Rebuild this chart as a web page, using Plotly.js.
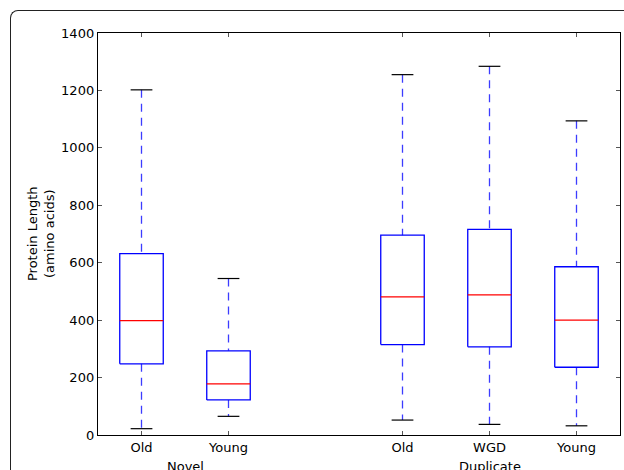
<!DOCTYPE html>
<html>
<head>
<meta charset="utf-8">
<script src="https://cdn.plot.ly/plotly-3.0.1.min.js"></script>
<style>
  html, body { margin: 0; padding: 0; background: #fff; overflow: hidden; }
  #frame { position: absolute; left: 10px; top: 10px; width: 640px; height: 500px;
           border-top: 1.3px solid #222; border-left: 1.3px solid #222;
           border-top-left-radius: 8px; box-sizing: border-box; pointer-events: none; }
  #chart { position: absolute; left: 0; top: 0; width: 624px; height: 470px; }
</style>
</head>
<body>
<div id="chart"></div>
<div id="frame"></div>
<script>
// ---- data ----
const positions    = [1, 2, 4, 5, 6];
const categories   = ['Old', 'Young', 'Old', 'WGD', 'Young'];
const groupOf      = ['Novel', 'Novel', 'Duplicate', 'Duplicate', 'Duplicate'];
const groupLabels  = ['Novel', 'Duplicate'];
const lowerWhisker = [22, 65, 52, 37, 32];
const q1           = [248, 122, 315, 307, 236];
const median       = [398, 178, 481, 488, 400];
const q3           = [632, 293, 696, 716, 586];
const upperWhisker = [1202, 545, 1255, 1284, 1094];
const yTicks       = [0, 200, 400, 600, 800, 1000, 1200, 1400];

// ---- build traces ----
const boxHalf = 0.25, capHalf = 0.125;
const boxX = [], boxY = [], medX = [], medY = [], whX = [], whY = [], capX = [], capY = [];
positions.forEach((p, i) => {
  boxX.push(p - boxHalf, p + boxHalf, p + boxHalf, p - boxHalf, p - boxHalf, null);
  boxY.push(q1[i], q1[i], q3[i], q3[i], q1[i], null);
  medX.push(p - boxHalf, p + boxHalf, null);
  medY.push(median[i], median[i], null);
  whX.push(p, p, null, p, p, null);
  whY.push(upperWhisker[i], q3[i], null, q1[i], lowerWhisker[i], null);
  capX.push(p - capHalf, p + capHalf, null, p - capHalf, p + capHalf, null);
  capY.push(upperWhisker[i], upperWhisker[i], null, lowerWhisker[i], lowerWhisker[i], null);
});

const traces = [
  { x: whX, y: whY, mode: 'lines', line: { color: 'rgb(60,60,255)', width: 1.3, dash: '8px,6px' }, hoverinfo: 'skip' },
  { x: boxX, y: boxY, mode: 'lines', line: { color: 'blue', width: 1.3 }, hoverinfo: 'skip' },
  { x: medX, y: medY, mode: 'lines', line: { color: 'red', width: 1.3 }, hoverinfo: 'skip' },
  { x: capX, y: capY, mode: 'lines', line: { color: 'black', width: 1.2 }, hoverinfo: 'skip' }
];

const groupAnnotations = groupLabels.map(g => {
  const ps = positions.filter((p, i) => groupOf[i] === g);
  const c = ps.reduce((a, b) => a + b, 0) / ps.length;
  return { text: g, x: c, xref: 'x', y: 0, yref: 'paper', yanchor: 'top', yshift: -22,
           showarrow: false, font: { family: 'DejaVu Sans', size: 13, color: 'black' } };
});
const tickFont = { family: 'DejaVu Sans', size: 13, color: 'black' };

const layout = {
  width: 624, height: 470,
  margin: { l: 98, r: 4, t: 33, b: 35 },
  paper_bgcolor: 'white', plot_bgcolor: 'white',
  showlegend: false,
  font: { family: 'DejaVu Sans', color: 'black' },
  xaxis: {
    range: [0.5, 6.5], tickmode: 'array', tickvals: positions, ticktext: categories,
    showgrid: false, zeroline: false, showline: true, linecolor: 'black', linewidth: 1.2,
    mirror: 'allticks', ticks: 'inside', ticklen: 4, tickcolor: '#555', tickwidth: 1,
    tickfont: tickFont, fixedrange: true
  },
  yaxis: {
    range: [0, 1400], tickmode: 'array', tickvals: yTicks, ticktext: yTicks.map(String),
    showgrid: false, zeroline: false, showline: true, linecolor: 'black', linewidth: 1.2,
    mirror: 'allticks', ticks: 'inside', ticklen: 4, tickcolor: '#555', tickwidth: 1,
    tickfont: tickFont, fixedrange: true
  },
  annotations: [
    { text: 'Protein Length<br>(amino acids)', textangle: -90, x: 0, xref: 'paper',
      xanchor: 'center', xshift: -57, y: 0.5, yref: 'paper', yanchor: 'middle',
      showarrow: false, font: { family: 'DejaVu Sans', size: 13, color: 'black' } }
  ].concat(groupAnnotations)
};

Plotly.newPlot('chart', traces, layout, { displayModeBar: false, staticPlot: true });
</script>
</body>
</html>
